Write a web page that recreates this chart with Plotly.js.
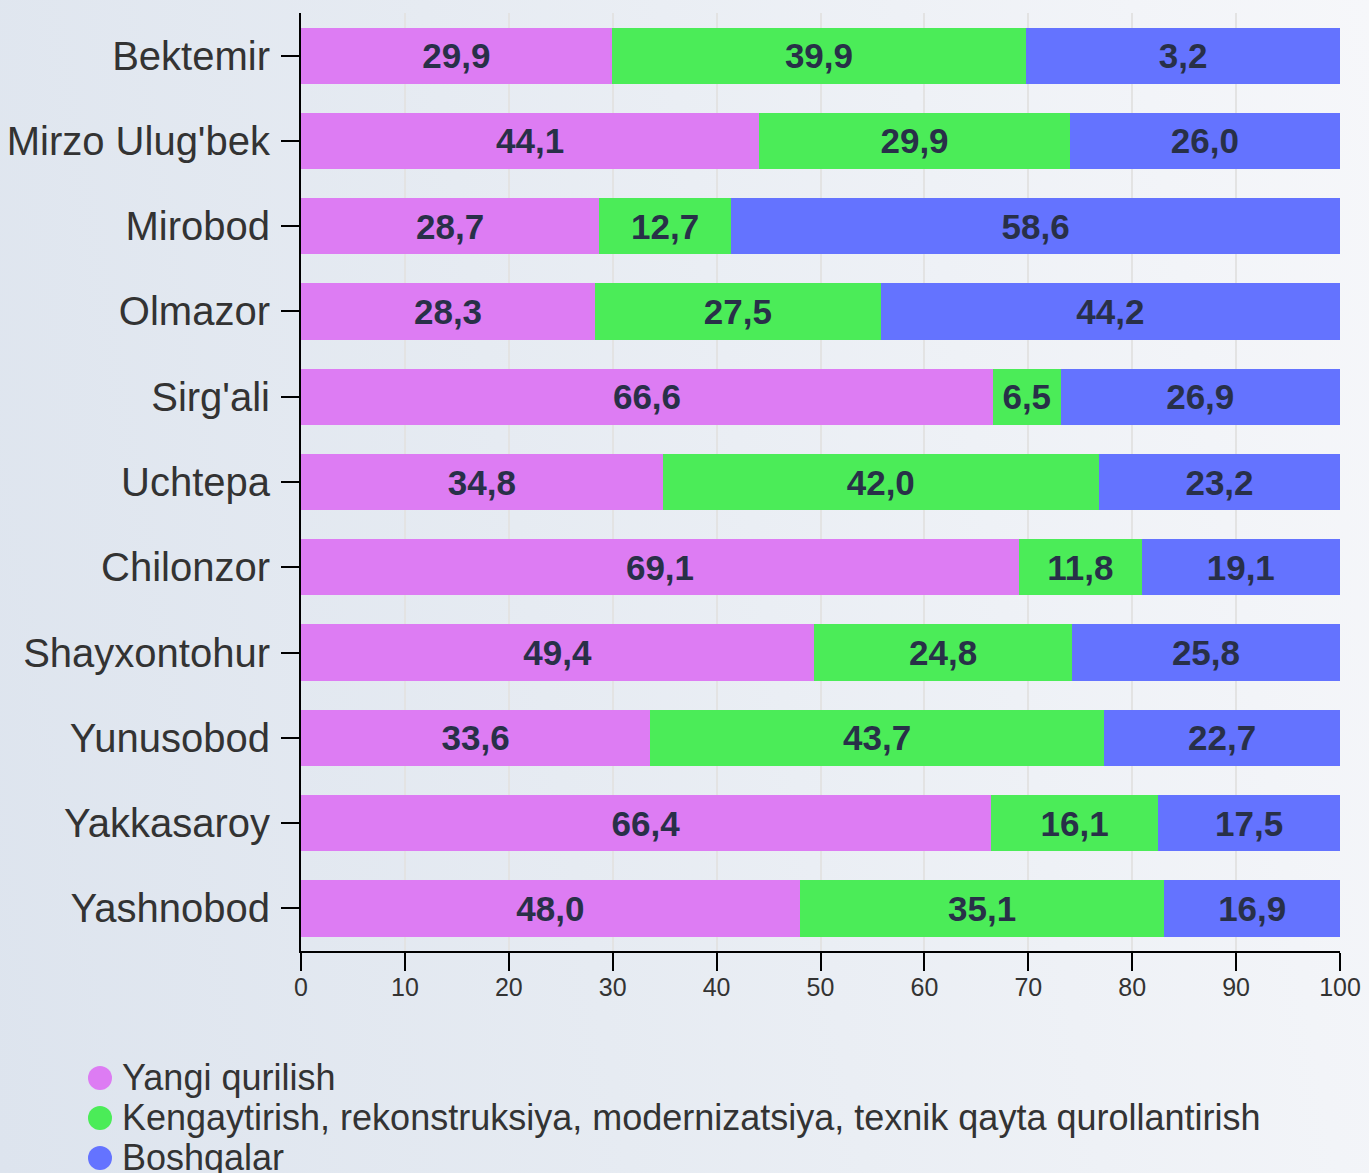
<!DOCTYPE html>
<html>
<head>
<meta charset="utf-8">
<script src="https://cdn.plot.ly/plotly-3.0.1.min.js"></script>
<style>
  html, body { margin: 0; padding: 0; }
  body { background: linear-gradient(80deg, #dde4ee 0%, #e6ebf2 40%, #f6f7fa 100%); }
  #chart { width: 1369px; height: 1173px; }
</style>
</head>
<body>
<div id="chart"></div>
<script>
const districts = ["Bektemir", "Mirzo Ulug'bek", "Mirobod", "Olmazor", "Sirg'ali", "Uchtepa",
  "Chilonzor", "Shayxontohur", "Yunusobod", "Yakkasaroy", "Yashnobod"];

const yangi = [29.9, 44.1, 28.7, 28.3, 66.6, 34.8, 69.1, 49.4, 33.6, 66.4, 48.0];
const kengaytirish = [39.9, 29.9, 12.7, 27.5, 6.5, 42.0, 11.8, 24.8, 43.7, 16.1, 35.1];
const boshqalar = [30.2, 26.0, 58.6, 44.2, 26.9, 23.2, 19.1, 25.8, 22.7, 17.5, 16.9];
// the source prints "3,2" on the Bektemir bar although the bar fills up to 100
const boshqalarLabels = ["3,2", "26,0", "58,6", "44,2", "26,9", "23,2", "19,1", "25,8", "22,7", "17,5", "16,9"];

const seriesNames = ["Yangi qurilish",
  "Kengaytirish, rekonstruksiya, modernizatsiya, texnik qayta qurollantirish",
  "Boshqalar"];
const colors = ["#dd7cf3", "#4bec58", "#6473ff"];

const xTicks = [0, 10, 20, 30, 40, 50, 60, 70, 80, 90, 100];

const FONT = 'Arial, "Liberation Sans", sans-serif';
const fmt = v => v.toFixed(1).replace(".", ",");

const W = 1369, H = 1173;
const M = { l: 301, r: 29, t: 13, b: 222 };
const plotW = W - M.l - M.r, plotH = H - M.t - M.b;
// pixel -> paper helpers for the hand drawn legend
const px = x => (x - M.l) / plotW;
const py = y => (H - M.b - y) / plotH;

const barText = [yangi.map(fmt), kengaytirish.map(fmt), boshqalarLabels];
const series = [yangi, kengaytirish, boshqalar];

const data = series.map((vals, i) => ({
  type: "bar",
  orientation: "h",
  x: vals,
  y: districts,
  name: seriesNames[i],
  marker: { color: colors[i], line: { width: 0 } },
  text: barText[i],
  textposition: "inside",
  insidetextanchor: "middle",
  constraintext: "none",
  textangle: 0,
  textfont: { family: FONT, size: 35, color: "#283048", weight: "bold" },
  hoverinfo: "x+y",
}));

// legend: round markers + labels, one row each
const shapes = [];
const annotations = [];
seriesNames.forEach((name, i) => {
  const cy = 1078 + i * 40;
  shapes.push({
    type: "circle",
    xref: "paper", yref: "paper",
    xsizemode: "pixel", ysizemode: "pixel",
    xanchor: px(100), yanchor: py(cy),
    x0: -12, x1: 12, y0: -12, y1: 12,
    fillcolor: colors[i],
    line: { width: 0 },
  });
  annotations.push({
    xref: "paper", yref: "paper",
    x: px(120), y: py(cy - 1),
    xanchor: "left", yanchor: "middle",
    text: name,
    showarrow: false,
    font: { family: FONT, size: 36, color: "#333333" },
  });
});

const layout = {
  width: W,
  height: H,
  barmode: "stack",
  bargap: 0.34,
  showlegend: false,
  paper_bgcolor: "rgba(0,0,0,0)",
  plot_bgcolor: "rgba(0,0,0,0)",
  font: { family: FONT, color: "#333333" },
  margin: { l: M.l, r: M.r, t: M.t, b: M.b, pad: 0, autoexpand: false },
  xaxis: {
    range: [0, 100],
    tickvals: xTicks,
    ticks: "outside",
    ticklen: 18,
    tickwidth: 2,
    tickcolor: "#000000",
    showline: true,
    linecolor: "#000000",
    linewidth: 2,
    showgrid: true,
    gridcolor: "#e3e3e3",
    gridwidth: 2,
    zeroline: false,
    ticklabelstandoff: -5,
    tickfont: { family: FONT, size: 25, color: "#333333" },
    fixedrange: true,
  },
  yaxis: {
    type: "category",
    categoryorder: "array",
    categoryarray: districts,
    autorange: "reversed",
    ticks: "outside",
    ticklen: 18,
    tickwidth: 2,
    tickcolor: "#000000",
    showline: true,
    linecolor: "#000000",
    linewidth: 2,
    showgrid: false,
    zeroline: false,
    ticklabelstandoff: 3,
    tickfont: { family: FONT, size: 40, color: "#333333" },
    fixedrange: true,
  },
  shapes: shapes,
  annotations: annotations,
};

Plotly.newPlot("chart", data, layout, { displayModeBar: false, staticPlot: true });
</script>
</body>
</html>
